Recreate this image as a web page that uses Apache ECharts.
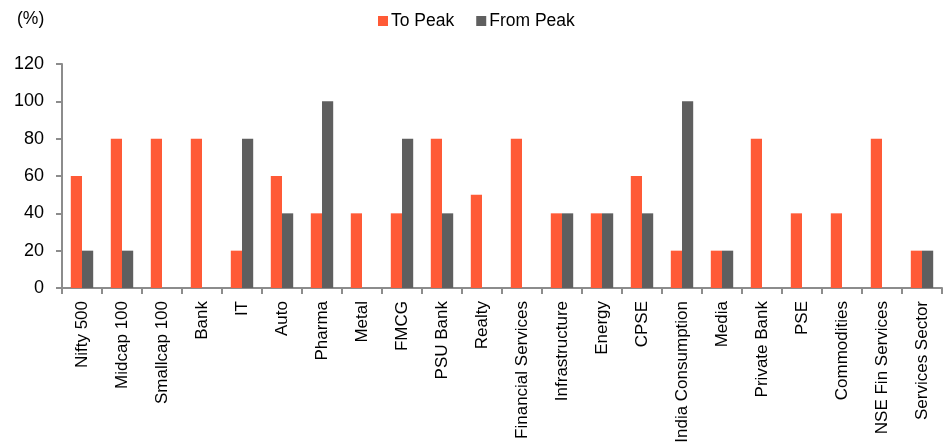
<!DOCTYPE html>
<html>
<head>
<meta charset="utf-8">
<script src="https://cdn.jsdelivr.net/npm/echarts@6/dist/echarts.min.js"></script>
<style>
  html, body { margin: 0; padding: 0; background: #fff; }
  #chart { width: 946px; height: 448px; }
</style>
</head>
<body>
<div id="chart"></div>
<script>
// categories and values
var categories = ['Nifty 500', 'Midcap 100', 'Smallcap 100', 'Bank', 'IT', 'Auto', 'Pharma', 'Metal',
  'FMCG', 'PSU Bank', 'Realty', 'Financial Services', 'Infrastructure', 'Energy', 'CPSE',
  'India Consumption', 'Media', 'Private Bank', 'PSE', 'Commodities', 'NSE Fin Services', 'Services Sector']
var toPeak = [60, 80, 80, 80, 20, 60, 40, 40, 40, 80, 50, 80, 40, 40, 60, 20, 20, 80, 40, 40, 80, 20]
var fromPeak = [20, 20, 0, 0, 80, 40, 100, 0, 80, 40, 0, 0, 40, 40, 40, 100, 20, 0, 0, 0, 0, 20]
var yTicks = { min: 0, max: 120, interval: 20 }

var font = 'Liberation Sans, Arial, sans-serif'
var myChart = echarts.init(document.getElementById('chart'))
var option = {
  animation: false,
  color: ['#FF5A36', '#5F5F5F'],
  textStyle: { fontFamily: font },
  legend: {
    data: ['To Peak', 'From Peak'],
    top: 7,
    left: 373,
    itemWidth: 10,
    itemHeight: 10,
    itemGap: 22,
    icon: 'rect',
    textStyle: { fontSize: 17.5, color: '#000', fontFamily: font, padding: [0, 0, 0, -2] }
  },
  graphic: [{
    type: 'text',
    left: 17,
    top: 10,
    style: { text: '(%)', fontSize: 17.5, fill: '#000', fontFamily: font }
  }],
  grid: {
    left: 62,
    right: 4,
    top: 64,
    bottom: 160,
    containLabel: false
  },
  xAxis: {
    type: 'category',
    data: categories,
    axisLine: { lineStyle: { color: '#8C8C8C', width: 2 } },
    axisTick: { show: true, length: 6, lineStyle: { color: '#8C8C8C', width: 2 } },
    axisLabel: {
      rotate: 90,
      interval: 0,
      fontSize: 17,
      color: '#000',
      fontFamily: font,
      margin: 13
    }
  },
  yAxis: {
    type: 'value',
    min: yTicks.min,
    max: yTicks.max,
    interval: yTicks.interval,
    axisLine: { show: true, lineStyle: { color: '#8C8C8C', width: 2 } },
    axisTick: { show: true, length: 6, lineStyle: { color: '#8C8C8C', width: 2 } },
    axisLabel: { fontSize: 18, color: '#000', fontFamily: font, margin: 18 },
    splitLine: { show: false }
  },
  series: [
    {
      name: 'To Peak',
      type: 'bar',
      barGap: '0%',
      barCategoryGap: '44%',
      data: toPeak
    },
    {
      name: 'From Peak',
      type: 'bar',
      barGap: '0%',
      barCategoryGap: '44%',
      data: fromPeak
    }
  ]
}
myChart.setOption(option)
</script>
</body>
</html>
